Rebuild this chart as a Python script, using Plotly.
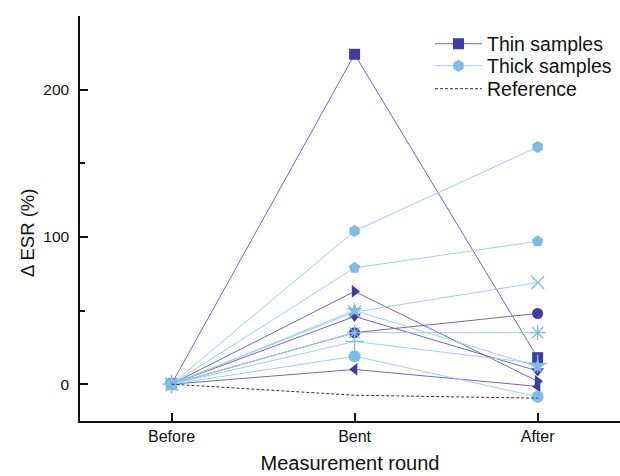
import plotly.graph_objects as go

rounds = ["Before", "Bent", "After"]

# Thin samples (values in % change of ESR)
thin_names = ["T1", "T2", "T3", "T4", "T5"]
thin_symbols = ["square", "triangle-right", "triangle-down", "circle", "triangle-left"]
thin_values = [
    [0, 224, 18],
    [0, 63, 2],
    [0, 46, 9],
    [0, 35, 48],
    [0, 10, -1.5],
]

# Thick samples
thick_names = ["K1", "K2", "K3", "K4", "K5", "K6", "K7"]
thick_symbols = ["hexagon", "pentagon", "x-thin-open", "star", "asterisk-open", "cross-thin-open", "circle"]
thick_values = [
    [0, 104, 161],
    [0, 79, 97],
    [0, 49, 69],
    [0, 50, 12],
    [0, 35, 35],
    [0, 29, 14],
    [0, 19, -8.5],
]

reference_values = [0, -7.5, -9.5]

THIN_LINE = "#6E66CC"
THIN_MARK = "#3E3DA3"
THICK_LINE = "#9ACFF0"
THICK_MARK = "#7CBCE6"

fig = go.Figure()

for i, (name, sym, vals) in enumerate(zip(thin_names, thin_symbols, thin_values)):
    open_sym = sym.endswith("open")
    fig.add_trace(go.Scatter(
        x=rounds, y=vals, mode="lines+markers",
        name="Thin samples", legendgroup="thin", showlegend=(i == 0), legend="legend",
        line=dict(color=THIN_LINE, width=1),
        marker=dict(symbol=sym, size=11, color=THIN_MARK,
                    line=dict(width=1.5 if open_sym else 0, color=THIN_MARK)),
    ))

for i, (name, sym, vals) in enumerate(zip(thick_names, thick_symbols, thick_values)):
    open_sym = sym.endswith("open")
    fig.add_trace(go.Scatter(
        x=rounds, y=vals, mode="lines+markers",
        name="Thick samples", legendgroup="thick", showlegend=(i == 0), legend="legend2",
        line=dict(color=THICK_LINE, width=1),
        marker=dict(symbol=sym, size=12 if not open_sym else 13, color=THICK_MARK,
                    line=dict(width=1.3 if open_sym else 0, color=THICK_MARK)),
    ))

fig.add_trace(go.Scatter(
    x=rounds, y=reference_values, mode="lines", legend="legend3",
    name="Reference", line=dict(color="#333333", width=1, dash="3px,2px"),
))

# plot area: x 80..620 px, y 16..421 px
def ly(px):
    return (421 - px) / 405.0

leg_common = dict(x=(430 - 80) / 540.0, xanchor="left", yanchor="middle",
                  font=dict(size=19.5), bgcolor="rgba(0,0,0,0)", itemwidth=47,
                  borderwidth=0)

axis_font = dict(family="Liberation Sans, Arial, sans-serif", size=16, color="#111111")
fig.update_layout(
    width=620, height=476,
    margin=dict(l=80, r=0, t=16, b=55),
    paper_bgcolor="white", plot_bgcolor="white",
    font=dict(family="Liberation Sans, Arial, sans-serif", color="#111111"),
    legend=dict(y=ly(44), **leg_common),
    legend2=dict(y=ly(66), **leg_common),
    legend3=dict(y=ly(89), **leg_common),
    showlegend=True,
    annotations=[dict(
        text="Δ ESR (%)", xref="paper", yref="paper",
        x=-(80 - 27) / 540.0, y=ly(233), xanchor="center", yanchor="middle",
        textangle=-90, showarrow=False, font=dict(size=18.5, color="#111111"),
    )],
)
fig.update_xaxes(
    type="category", categoryorder="array", categoryarray=rounds,
    range=[-0.5, 2.45],
    showline=True, linecolor="#111111", linewidth=1.5,
    ticks="inside", ticklen=8, tickwidth=1.5, tickcolor="#111111",
    showgrid=False, zeroline=False, tickfont=axis_font,
    title=dict(text="Measurement round", font=dict(size=20), standoff=12),
)
fig.update_yaxes(
    range=[-25, 250], tick0=0, dtick=100,
    showline=True, linecolor="#111111", linewidth=1.5,
    ticks="inside", ticklen=8, tickwidth=1.5, tickcolor="#111111",
    minor=dict(ticks="inside", ticklen=5, tickwidth=1.5, dtick=50, tick0=0, tickcolor="#111111", showgrid=False),
    showgrid=False, zeroline=False, tickfont=dict(family="Liberation Sans, Arial, sans-serif", size=15.5, color="#111111"),
    ticklabelstandoff=6,
)

fig.write_html("out.html")
